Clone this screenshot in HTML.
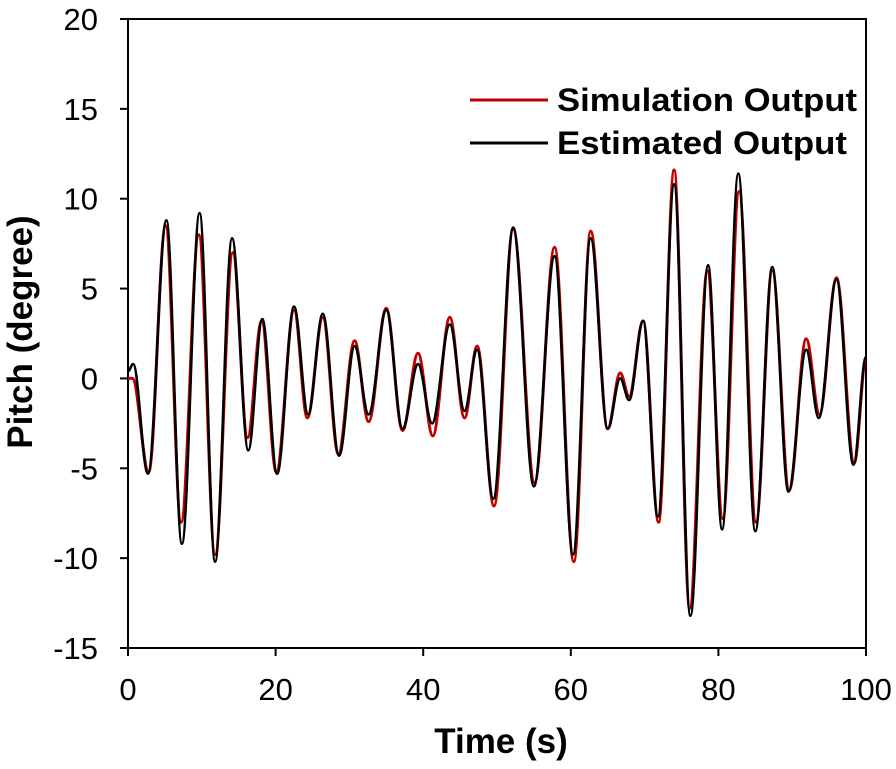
<!DOCTYPE html>
<html><head><meta charset="utf-8"><style>
html,body{margin:0;padding:0;background:#fff;}
svg text{font-family:"Liberation Sans",Arial,sans-serif;}
</style></head><body>
<svg id="chart" width="896" height="764" viewBox="0 0 896 764" xmlns="http://www.w3.org/2000/svg">
<g id="axes"></g>
<g id="series"></g>
<g>
<line x1="470" y1="100" x2="548" y2="100" stroke="#c00000" stroke-width="3"/>
<text x="557" y="111" font-size="32" font-weight="bold" fill="#000" textLength="300" lengthAdjust="spacingAndGlyphs">Simulation Output</text>
<line x1="470" y1="143" x2="548" y2="143" stroke="#000" stroke-width="3"/>
<text x="557" y="154" font-size="32" font-weight="bold" fill="#000" textLength="290" lengthAdjust="spacingAndGlyphs">Estimated Output</text>
</g>
<text x="501" y="753" font-size="35" font-weight="bold" text-anchor="middle">Time (s)</text>
<text transform="translate(32,332) rotate(-90)" font-size="35" font-weight="bold" text-anchor="middle">Pitch (degree)</text>
</svg>
<script>
const xTicks=[0,20,40,60,80,100];
const yTicks=[-15,-10,-5,0,5,10,15,20];
const estTimes=[0,0.7,2.7,5.2,7.3,9.7,11.8,14.1,16.3,18.2,20.2,22.5,24.4,26.4,28.6,30.7,32.6,35,37.2,39.3,41.2,43.6,45.6,47.3,49.5,52.2,55,57.8,60.3,62.7,65,66.7,67.9,69.8,71.8,74,76.2,78.6,80.5,82.7,85,87.3,89.5,91.9,93.6,96,98.3,100];
const estValues=[0.4,0.8,-5.3,8.8,-9.2,9.2,-10.2,7.8,-4,3.3,-5.3,4,-2,3.6,-4.3,1.8,-2,3.8,-2.8,0.8,-2.5,3,-1.8,1.6,-6.7,8.4,-6,6.8,-9.8,7.8,-2.8,0,-1.2,3.2,-7.7,10.8,-13.2,6.3,-8.4,11.4,-8.5,6.2,-6.3,1.6,-2.2,5.5,-4.8,1.2];
const simTimes=[0,0.6,2.8,5.1,7.2,9.6,11.8,14.2,16.2,18.1,20.1,22.5,24.3,26.4,28.5,30.7,32.6,35,37.2,39.3,41.3,43.6,45.6,47.3,49.6,52.2,55.1,57.8,60.4,62.7,65,66.7,67.9,69.8,71.9,74,76.1,78.5,80.6,82.8,85.1,87.3,89.6,91.9,93.7,96,98.4,100];
const simValues=[0,0,-5.2,8.5,-8,8,-9.8,7,-3.3,3.2,-5.2,3.8,-2.2,3.4,-4.2,2.1,-2.4,3.9,-2.9,1.4,-3.2,3.4,-2.2,1.8,-7.1,8.3,-5.8,7.3,-10.2,8.2,-2.8,0.3,-1,3.2,-8,11.6,-12.8,6,-7.8,10.4,-8,6,-6.2,2.2,-2,5.6,-4.7,1];
const X0=128,X1=866,Y0=648,Y1=19;
const xs=t=>X0+(t-0)/(100-0)*(X1-X0);
const ys=v=>Y0-(v+15)/35*(Y0-Y1);
const NS='http://www.w3.org/2000/svg';
const axes=document.getElementById('axes');
function mk(tag,attrs,parent){const e=document.createElementNS(NS,tag);for(const k in attrs)e.setAttribute(k,attrs[k]);parent.appendChild(e);return e;}
let e=mk('rect',{x:X0,y:Y1,width:X1-X0,height:Y0-Y1,fill:'none',stroke:'#000','stroke-width':2},axes);


yTicks.forEach(v=>{
 const t=mk('line',{x1:X0-8,y1:ys(v),x2:X0,y2:ys(v),stroke:'#000','stroke-width':2},axes);
 
 
 const l=mk('text',{x:98,y:ys(v)+11,'font-size':31,'text-anchor':'end'},axes);
 l.textContent=v;
 
 
});
xTicks.forEach(v=>{
 const t=mk('line',{x1:xs(v),y1:Y0,x2:xs(v),y2:Y0+8,stroke:'#000','stroke-width':2},axes);
 
 
 const l=mk('text',{x:xs(v),y:700,'font-size':31,'text-anchor':'middle'},axes);
 l.textContent=v;
 
 
});
function pathFor(ts,vs){
 let d='M'+xs(ts[0]).toFixed(1)+','+ys(vs[0]).toFixed(1);
 for(let i=1;i<ts.length;i++){
  const xa=xs(ts[i-1]),xb=xs(ts[i]),ya=ys(vs[i-1]),yb=ys(vs[i]);
  const dx=(xb-xa)*0.36;
  d+=' C'+(xa+dx).toFixed(1)+','+ya.toFixed(1)+' '+(xb-dx).toFixed(1)+','+yb.toFixed(1)+' '+xb.toFixed(1)+','+yb.toFixed(1);
 }
 return d;
}
const series=document.getElementById('series');
let p=mk('path',{d:pathFor(simTimes,simValues),fill:'none',stroke:'#c00000','stroke-width':3},series);


p=mk('path',{d:pathFor(estTimes,estValues),fill:'none',stroke:'#000','stroke-width':2.6},series);


</script>
</body></html>
